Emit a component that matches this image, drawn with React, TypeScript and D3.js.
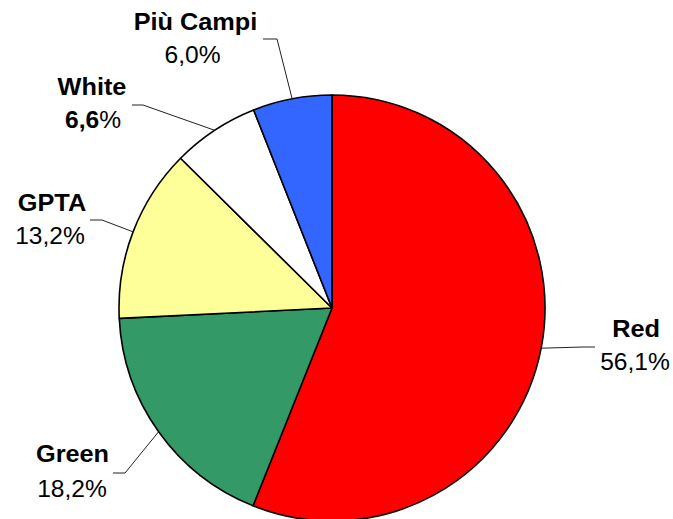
import React from "react";
import * as d3 from "d3";

const categories = ["Red", "Green", "GPTA", "White", "Più Campi"];
const values = [56.1, 18.2, 13.2, 6.6, 6.0];
const valueLabels = ["56,1", "18,2", "13,2", "6,6", "6,0"];
const colors = ["#FF0000", "#339966", "#FFFF99", "#FFFFFF", "#3366FF"];

const W = 673;
const H = 519;
const cx = 332;
const cy = 308;
const R = 213;

// label layout: [name x, name baseline, pct x, pct baseline, elbow x, elbow y, end x]
const layout: Record<string, number[]> = {
  Red: [636, 337, 635, 370, 583, 347, 595],
  Green: [72.5, 462, 72, 496.5, 125, 473, 113],
  GPTA: [52, 210.5, 50, 243.5, 102, 220, 90],
  White: [92, 95, 93, 128, 143, 105, 132],
  "Più Campi": [195.5, 29.5, 192.5, 62.5, 277, 39, 263],
};

export default function App() {
  const pie = d3
    .pie<number>()
    .sort(null)
    .startAngle(0)
    .endAngle(2 * Math.PI)
    .value((d) => d);
  const arcs = pie(values);
  const arc = d3.arc<d3.PieArcDatum<number>>().innerRadius(0).outerRadius(R);
  const font = "'Liberation Sans', Arial, sans-serif";

  return (
    <svg
      width={W}
      height={H}
      style={{ position: "absolute", left: 0, top: 0, background: "#fff" }}
    >
      <g transform={`translate(${cx},${cy})`}>
        {arcs.map((a, i) => (
          <path
            key={i}
            d={arc(a) || ""}
            fill={colors[i]}
            stroke="#000"
            strokeWidth={1.6}
            strokeLinejoin="round"
          />
        ))}
      </g>
      {arcs.map((a, i) => {
        const name = categories[i];
        const L = layout[name];
        const mid = (a.startAngle + a.endAngle) / 2;
        const px = cx + R * Math.sin(mid);
        const py = cy - R * Math.cos(mid);
        const bold = name === "White";
        return (
          <g key={name}>
            <polyline
              points={`${px},${py} ${L[4]},${L[5]} ${L[6]},${L[5]}`}
              fill="none"
              stroke="#222"
              strokeWidth={1}
            />
            <g transform={`translate(${L[0]},${L[1]}) scale(1.1,1)`}>
              <text
                textAnchor="middle"
                fontFamily={font}
                fontWeight="bold"
                fontSize={23}
                fill="#000"
              >
                {name}
              </text>
            </g>
            <g transform={`translate(${L[2]},${L[3]}) scale(1.07,1)`}>
              <text
                textAnchor="middle"
                fontFamily={font}
                fontSize={23}
                fill="#000"
              >
                <tspan fontWeight={bold ? "bold" : "normal"}>
                  {valueLabels[i]}
                </tspan>
                <tspan>%</tspan>
              </text>
            </g>
          </g>
        );
      })}
    </svg>
  );
}
